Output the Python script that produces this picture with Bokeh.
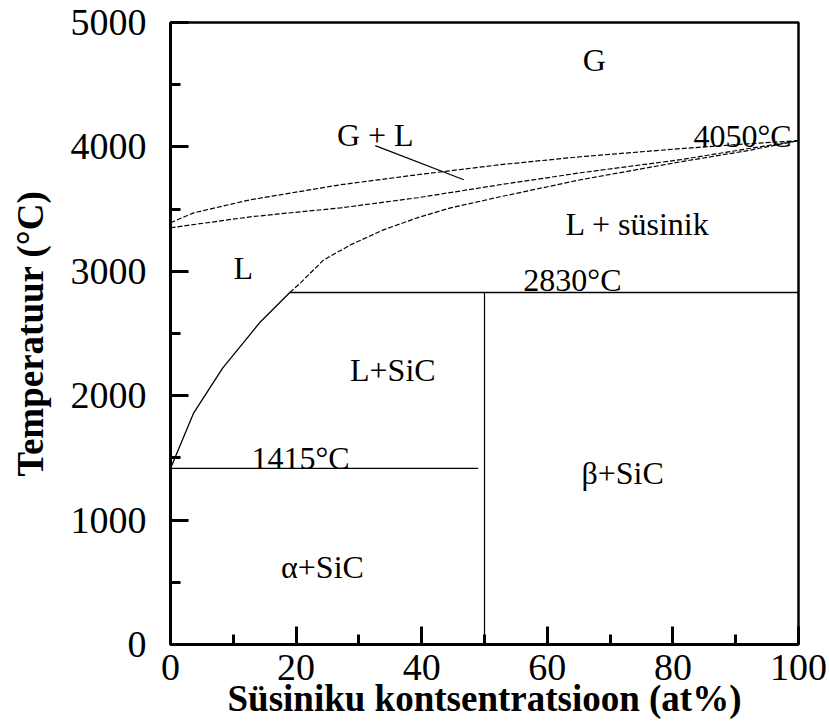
from bokeh.plotting import figure
from bokeh.models import Range1d, FixedTicker, ColumnDataSource
from bokeh.core.properties import value
from bokeh.embed import file_html
from bokeh.resources import INLINE

# Si–C phase diagram: composition in at% carbon, temperature in °C
x_ticks = [0, 20, 40, 60, 80, 100]
x_minor = [10, 30, 50, 70, 90]
y_ticks = [0, 1000, 2000, 3000, 4000, 5000]
y_minor = [500, 1500, 2500, 3500, 4500]

si_melting = 1415
peritectic = 2830
carbon_top = 4050
sic_comp = 50

# liquidus on the Si-rich side (solid)
si_liq_x = [0, 3.7, 8.3, 14.3, 19]
si_liq_t = [si_melting, 1862, 2222, 2593, peritectic]

# liquidus towards carbon (dashed)
c_liq_x = [19, 20.7, 24.4, 28.7, 33.9, 39.3, 44.6, 52.5, 65.3, 81.2, 91.9, 100]
c_liq_t = [peritectic, 2907, 3092, 3213, 3333, 3430, 3510, 3599, 3736, 3880, 3970, carbon_top]

# boiling / gas boundaries (dashed)
gas_hi_x = [0, 3.7, 12.7, 27.1, 39.3, 52.5, 65.3, 81.2, 91.9, 100]
gas_hi_t = [3390, 3470, 3575, 3696, 3776, 3857, 3921, 3986, 4025, carbon_top]
gas_lo_x = [0, 12.7, 27.1, 39.3, 52.5, 65.3, 81.2, 91.9, 100]
gas_lo_t = [3350, 3438, 3510, 3591, 3696, 3792, 3897, 3985, carbon_top]

# leader line from the "G + L" label
lead_x = [32.6, 46.7]
lead_t = [4010, 3736]

SERIF = "Liberation Serif"

p = figure(width=829, height=722, output_backend="svg", toolbar_location=None,
           x_range=Range1d(0, 100), y_range=Range1d(0, 5000),
           min_border_left=170, min_border_right=31,
           min_border_top=22, min_border_bottom=78)
p.background_fill_color = "white"
p.border_fill_color = "white"
p.grid.visible = False
p.outline_line_color = "black"
p.outline_line_width = 2.5

p.xaxis.ticker = FixedTicker(ticks=x_ticks, minor_ticks=x_minor)
p.yaxis.ticker = FixedTicker(ticks=y_ticks, minor_ticks=y_minor)
for ax in (p.xaxis[0], p.yaxis[0]):
    ax.axis_line_width = 3
    ax.axis_line_color = "black"
    ax.major_tick_in = 18
    ax.major_tick_out = 0
    ax.minor_tick_in = 10
    ax.minor_tick_out = 0
    ax.major_tick_line_width = 3
    ax.minor_tick_line_width = 3
    ax.major_label_text_font = SERIF
    ax.major_label_text_font_size = "38px"
    ax.major_label_text_color = "black"
    ax.axis_label_text_font = SERIF
    ax.axis_label_text_font_size = "37px"
    ax.axis_label_text_font_style = "bold"
    ax.axis_label_text_color = "black"

p.xaxis.axis_label = "Süsiniku kontsentratsioon (at%)"
p.yaxis.axis_label = "Temperatuur (°C)"
p.xaxis.major_label_standoff = 10
p.yaxis.major_label_standoff = 24
p.xaxis.axis_label_standoff = -5
p.yaxis.axis_label_standoff = 17

# horizontal invariant lines and the SiC compound line
p.line([0, 49], [si_melting, si_melting], line_color="black", line_width=1.2)
p.line([19, 100], [peritectic, peritectic], line_color="black", line_width=1.4)
p.line([sic_comp, sic_comp], [0, peritectic], line_color="black", line_width=1.2)

p.line(si_liq_x, si_liq_t, line_color="black", line_width=1.3)
dash = "5 2"
p.line(c_liq_x, c_liq_t, line_color="black", line_width=1.2, line_dash=dash)
p.line(gas_hi_x, gas_hi_t, line_color="black", line_width=1.2, line_dash=dash)
p.line(gas_lo_x, gas_lo_t, line_color="black", line_width=1.2, line_dash=dash)
p.line(lead_x, lead_t, line_color="black", line_width=1.2)

labels = ColumnDataSource(dict(
    x=[67.5, 32.6, 91.1, 74.4, 11.6, 64.0, 35.4, 20.7, 72.0, 24.2],
    y=[4700, 4098, 4090, 3382, 3027, 2931, 2206, 1498, 1377, 620],
    text=["G", "G + L", "4050°C", "L + süsinik", "L", "2830°C",
          "L+SiC", "1415°C", "β+SiC", "α+SiC"],
))
p.text(x="x", y="y", text="text", source=labels,
       text_font=value(SERIF), text_font_size=value("32px"),
       text_align="center", text_baseline="middle", text_color="black")

open("out.html", "w").write(file_html(p, INLINE))
